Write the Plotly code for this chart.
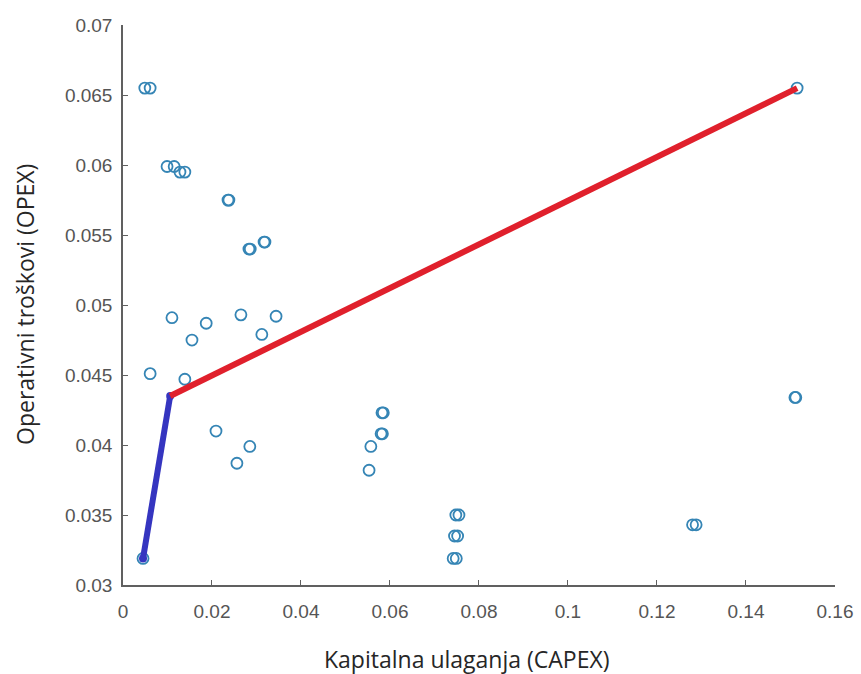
import plotly.graph_objects as go

capex = [0.0049, 0.0061, 0.0099, 0.0115, 0.0128, 0.0139, 0.0236, 0.0238,
         0.0283, 0.0286, 0.0317, 0.0319, 0.0110, 0.0187, 0.0155, 0.0265,
         0.0312, 0.0344, 0.0061, 0.0139, 0.0209, 0.0285, 0.0256, 0.0557,
         0.0553, 0.0582, 0.0585, 0.0580, 0.0583, 0.0748, 0.0755, 0.0745,
         0.0752, 0.0742, 0.0749, 0.1280, 0.1288, 0.1510, 0.1512, 0.1515, 0.0045]
opex = [0.0655, 0.0655, 0.0599, 0.0599, 0.0595, 0.0595, 0.0575, 0.0575,
        0.0540, 0.0540, 0.0545, 0.0545, 0.0491, 0.0487, 0.0475, 0.0493,
        0.0479, 0.0492, 0.0451, 0.0447, 0.0410, 0.0399, 0.0387, 0.0399,
        0.0382, 0.0423, 0.0423, 0.0408, 0.0408, 0.0350, 0.0350, 0.0335,
        0.0335, 0.0319, 0.0319, 0.0343, 0.0343, 0.0434, 0.0434, 0.0655, 0.0319]

blue_x = [0.0045, 0.0106]
blue_y = [0.0319, 0.0435]
red_x = [0.0106, 0.1515]
red_y = [0.0435, 0.0655]

x_ticks = [0, 0.02, 0.04, 0.06, 0.08, 0.1, 0.12, 0.14, 0.16]
x_labels = ["0", "0.02", "0.04", "0.06", "0.08", "0.1", "0.12", "0.14", "0.16"]
y_ticks = [0.03, 0.035, 0.04, 0.045, 0.05, 0.055, 0.06, 0.065, 0.07]
y_labels = ["0.03", "0.035", "0.04", "0.045", "0.05", "0.055", "0.06", "0.065", "0.07"]

x_title = "Kapitalna ulaganja (CAPEX)"
y_title = "Operativni troškovi (OPEX)"

fig = go.Figure()
fig.add_trace(go.Scatter(
    x=capex, y=opex, mode="markers",
    marker=dict(symbol="circle-open", size=11, color="#3585b5", line=dict(width=1.8)),
    showlegend=False))
fig.add_trace(go.Scatter(
    x=blue_x, y=blue_y, mode="lines+markers",
    line=dict(color="#3535c0", width=6),
    marker=dict(size=8, color="#3535c0"),
    showlegend=False))
fig.add_trace(go.Scatter(
    x=red_x, y=red_y, mode="lines",
    line=dict(color="#e0202c", width=6),
    showlegend=False))

axis_common = dict(
    showline=True, linecolor="#606060", linewidth=1.5,
    ticks="inside", ticklen=5, tickcolor="#606060", tickwidth=1.2,
    showgrid=False, zeroline=False, automargin=False,
    ticklabeloverflow="allow",
    tickfont=dict(family="Liberation Sans, Arial", size=19, color="#555555"),
)

title_font = dict(family="Open Sans, Noto Sans", size=23, color="#262626")

fig.update_layout(
    width=861, height=674,
    margin=dict(l=123, r=26, t=25, b=89),
    plot_bgcolor="white", paper_bgcolor="white",
    xaxis=dict(range=[0, 0.16001], tickvals=x_ticks, ticktext=x_labels,
               ticklabelstandoff=8, **axis_common),
    yaxis=dict(range=[0.03, 0.07001], tickvals=y_ticks, ticktext=y_labels,
               ticklabelstandoff=5, **axis_common),
    annotations=[
        dict(text=x_title, xref="paper", yref="paper", x=0.4831, y=0,
             xanchor="center", yanchor="middle", yshift=-74,
             showarrow=False, font=title_font),
        dict(text=y_title, xref="paper", yref="paper", x=0, y=0.5,
             xanchor="center", yanchor="middle", xshift=-98, textangle=-90,
             showarrow=False, font=title_font),
    ],
)

fig.write_html("out.html",
               config={"displayModeBar": False},
               post_script="document.body.style.margin='0';document.body.style.overflow='hidden';")
